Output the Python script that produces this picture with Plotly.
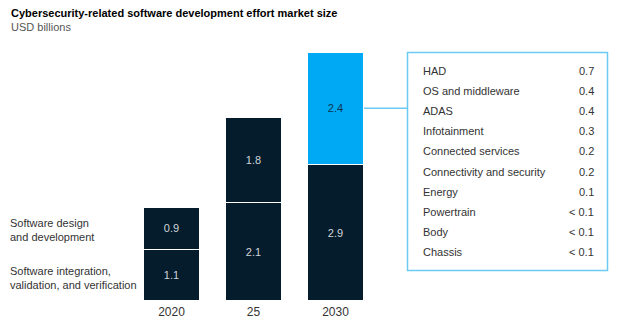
import plotly.graph_objects as go

# ---------------- data ----------------
years = ["2020", "25", "2030"]
integration = [1.1, 2.1, 2.9]   # Software integration, validation, and verification
design = [0.9, 1.8, 2.4]        # Software design and development
totals = ["2.0", "3.9", "5.3"]
total_vals = [2.0, 3.9, 5.3]

domains = ["HAD", "OS and middleware", "ADAS", "Infotainment", "Connected services",
           "Connectivity and security", "Energy", "Powertrain", "Body", "Chassis"]
domain_vals = ["0.7", "0.4", "0.4", "0.3", "0.2", "0.2", "0.1", "< 0.1", "< 0.1", "< 0.1"]

series_names = ["Software integration,<br>validation, and verification",
                "Software design<br>and development"]

# ---------------- style ----------------
W, H = 624, 329
MB = 28
PLOT_H = H - MB
NAVY = "#051c2c"
CYAN = "#00a9f4"
BOX = "#6ccaf2"
FONT = "Liberation Sans"
PX_PER_UNIT = 47.0


def px(xp):
    return xp / W


def py(yp):
    return (PLOT_H - yp) / PLOT_H


bar_w = 57 / 82
x0 = -171.5 / 82
x1 = (W - 171.5) / 82

fig = go.Figure()
fig.add_trace(go.Bar(
    x=years, y=integration, width=bar_w, name=series_names[0],
    marker=dict(color=NAVY, line=dict(color="white", width=1.5)),
    text=[f"{v:.1f}" for v in integration], textposition="inside",
    insidetextanchor="middle", textangle=0,
    textfont=dict(family=FONT, size=11, color="#d0d5d9"),
    hoverinfo="skip",
))
fig.add_trace(go.Bar(
    x=years, y=design, width=bar_w, name=series_names[1],
    marker=dict(color=[NAVY, NAVY, CYAN], line=dict(color="white", width=1.5)),
    text=[f"{v:.1f}" for v in design], textposition="inside",
    insidetextanchor="middle", textangle=0,
    textfont=dict(family=FONT, size=11, color=["#d0d5d9", "#d0d5d9", "#0b3550"]),
    hoverinfo="skip",
))

annotations = []
# totals
for yr, t, v in zip(years, totals, total_vals):
    annotations.append(dict(x=yr, y=v, xref="x", yref="y", text=f"<b>{t}</b>",
                            showarrow=False, yanchor="bottom", yshift=1,
                            font=dict(family=FONT, size=12, color="#000000")))

# title / subtitle
annotations.append(dict(x=px(9), y=py(13), xref="paper", yref="paper", xanchor="left",
                        yanchor="middle", showarrow=False,
                        text="<b>Cybersecurity-related software development effort market size</b>",
                        font=dict(family=FONT, size=11, color="#000000")))
annotations.append(dict(x=px(9), y=py(27), xref="paper", yref="paper", xanchor="left",
                        yanchor="middle", showarrow=False, text="USD billions",
                        font=dict(family=FONT, size=11, color="#555555")))

# series labels on the left
annotations.append(dict(x=px(8), y=py(229.5), xref="paper", yref="paper", xanchor="left",
                        yanchor="middle", align="left", showarrow=False, text=series_names[1],
                        font=dict(family=FONT, size=11, color="#333333")))
annotations.append(dict(x=px(8), y=py(277.5), xref="paper", yref="paper", xanchor="left",
                        yanchor="middle", align="left", showarrow=False, text=series_names[0],
                        font=dict(family=FONT, size=11, color="#333333")))

# breakdown box rows
for i, (d, v) in enumerate(zip(domains, domain_vals)):
    yy = 70.5 + 20.2 * i
    annotations.append(dict(x=px(421), y=py(yy), xref="paper", yref="paper", xanchor="left",
                            yanchor="middle", showarrow=False, text=d,
                            font=dict(family=FONT, size=11, color="#333333")))
    annotations.append(dict(x=px(596), y=py(yy), xref="paper", yref="paper", xanchor="right",
                            yanchor="middle", showarrow=False, text=v,
                            font=dict(family=FONT, size=11, color="#333333")))

shapes = [
    dict(type="rect", xref="paper", yref="paper", x0=px(407.5), x1=px(607.5),
         y0=py(52.5), y1=py(270.5), line=dict(color=BOX, width=1.5), fillcolor="rgba(0,0,0,0)"),
    dict(type="line", xref="x", yref="y", x0=2 + bar_w / 2, x1=2 + bar_w / 2 + 44 / 82,
         y0=integration[2] + design[2] / 2, y1=integration[2] + design[2] / 2,
         line=dict(color=BOX, width=1.5)),
]

fig.update_layout(
    width=W, height=H, barmode="stack", showlegend=False,
    margin=dict(l=0, r=0, t=0, b=MB, pad=0),
    paper_bgcolor="white", plot_bgcolor="white",
    uniformtext=dict(minsize=8, mode="show"),
    xaxis=dict(type="category", range=[x0, x1], showgrid=False, zeroline=False,
               showline=False, ticks="", ticklabelstandoff=2,
               tickfont=dict(family=FONT, size=12, color="#333333")),
    yaxis=dict(range=[0, PLOT_H / PX_PER_UNIT], visible=False, showgrid=False),
    annotations=annotations, shapes=shapes,
)

fig.write_html("out.html")
